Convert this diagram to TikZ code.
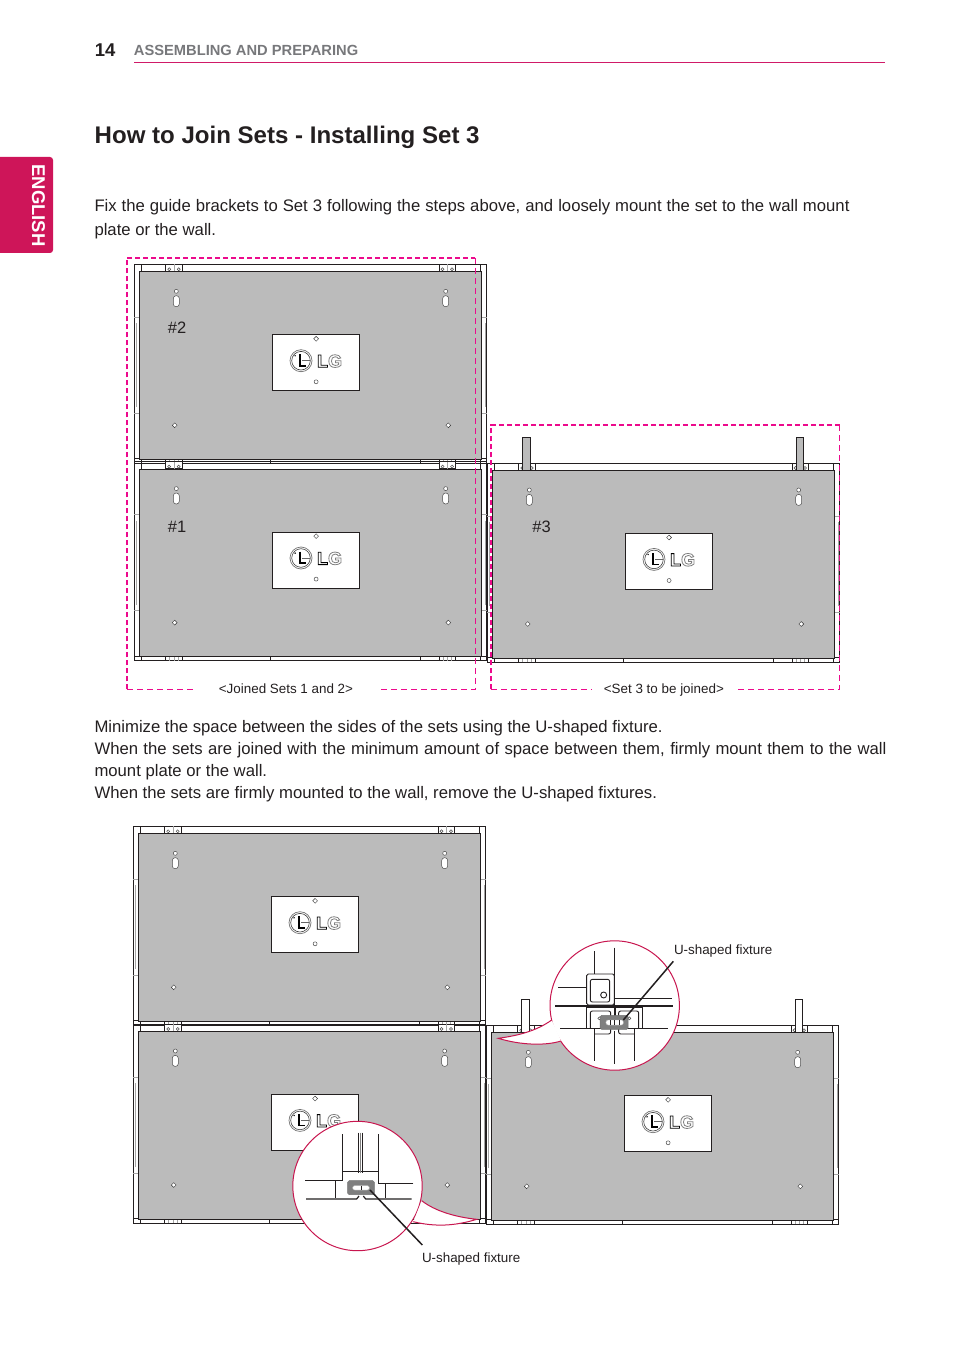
\documentclass[tikz,border=0pt]{standalone}
\usepackage{xcolor}
\usepackage{fontspec}
\setmainfont{Liberation Sans}
\usetikzlibrary{shapes.geometric}
\definecolor{TabRed}    {HTML}{CE1559}
\definecolor{LensRed}   {HTML}{C8164F}
\definecolor{DashPink}  {HTML}{EC0A8C}
\definecolor{RuleRed}   {HTML}{D01A68}
\definecolor{PanelGrey} {HTML}{BBBBBB}
\definecolor{FixGrey}   {HTML}{7F7F7F}
\definecolor{InkDark}   {HTML}{231F20}
\definecolor{HeadGrey}  {HTML}{77787B}
\tikzset{
  bodytext/.style={inner sep=0pt,anchor=base west,align=left,text=InkDark,font=\fontsize{16.7}{22}\selectfont},
  smalltext/.style={inner sep=0pt,anchor=base west,text=InkDark,font=\fontsize{13.4}{16}\selectfont},
  setlabel/.style={inner sep=0pt,text=InkDark,font=\fontsize{16.5}{18}\selectfont},
  frameline/.style={draw=InkDark,line width=.8pt},
  palebracket/.style={draw=black!35,line width=.6pt},
  panelbody/.style={draw=InkDark,line width=.9pt,fill=PanelGrey,anchor=north west,inner sep=0pt,minimum width=342pt,minimum height=187.5pt},
  logoplate/.style={draw=InkDark,line width=.8pt,fill=white,anchor=north west,inner sep=0pt,minimum width=87pt,minimum height=56pt},
  holedot/.style={circle,draw=black!70,line width=.5pt,fill=white,inner sep=0pt,minimum size=4pt},
  smalldiamond/.style={diamond,draw=black!80,line width=.4pt,fill=white,inner sep=0pt,minimum size=5pt},
  thickdash/.style={draw=DashPink,line width=1.7pt,dash pattern=on 5pt off 3pt},
  thindash/.style={draw=DashPink,line width=1pt,dash pattern=on 6pt off 4pt},
  lens/.style={circle,draw=LensRed,line width=1pt,fill=white,inner sep=0pt,minimum size=129.4pt},
  detail/.style={draw=InkDark,line width=.9pt},
  fixture/.style={draw=black!55,fill=FixGrey,rounded corners=1.5pt,inner sep=0pt,line width=.5pt},
  leader/.style={draw=InkDark,line width=1.5pt},
}
% outline text for the two logo letters
\newcommand{\logotext}[2]{\special{pdf:code 1 Tr 0.8 w #1 #1 #1 RG}#2\special{pdf:code 0 Tr}}
% one display: name, left and top of the grey panel
\newcommand{\drawset}[3]{%
  \begin{scope}[shift={(#2,#3)}]
    \draw[frameline] (-5,-7) rectangle (347.5,192);
    \draw[frameline] (2,-7) -- (2,0) (341,-7) -- (341,0);
    \draw[frameline] (2,187.5) -- (2,192) (341,187.5) -- (341,192);
    \draw[frameline] (-5,187.5) -- (0,187.5) (342.5,187.5) -- (347.5,187.5);
    \draw[palebracket] (-5,46) -- (0,46) (-5,142) -- (0,142) (342.5,46) -- (347.5,46) (342.5,142) -- (347.5,142);
    \draw[palebracket] (-3.5,52) -- (-3.5,136) (346,52) -- (346,136);
    \foreach \xpos in {26.4,299.7} {
      \draw[frameline,fill=white] (\xpos,-7) rectangle ({\xpos+16.6},0);
      \draw[palebracket] ({\xpos+8.3},-7) -- ({\xpos+8.3},0);
      \node[holedot,minimum size=3pt] at ({\xpos+3.5},-2) {};
      \node[holedot,minimum size=3pt] at ({\xpos+13},-2) {};
      \draw[frameline,fill=white] (\xpos,187.5) rectangle ({\xpos+16.6},192);
      \draw[palebracket] ({\xpos+4},187.5) -- ({\xpos+4},192) ({\xpos+8.3},187.5) -- ({\xpos+8.3},192) ({\xpos+12.6},187.5) -- ({\xpos+12.6},192);
    }
    \draw[frameline] (131.4,187.5) -- (131.4,192) (280.7,187.5) -- (280.7,192);
    \node[panelbody] (#1) at (0,0) {};
    \node[logoplate] (#1plate) at (133,63) {};
    \foreach \xpos in {37,306.4} {
      \node[holedot] at (\xpos,20) {};
      \draw[draw=black!70,line width=.5pt,fill=white,rounded corners=2.8pt] ({\xpos-3},24.4) rectangle ({\xpos+3},35.4);
    }
    \node[smalldiamond] at (35.4,154) {};
    \node[smalldiamond] at (309,154) {};
    \node[smalldiamond] at (176.8,67.5) {};
    \node[holedot] at (176.8,110.5) {};
    % logo
    \draw[draw=black!55,line width=.7pt] (161.7,89.4) circle (11);
    \draw[draw=black!75,line width=.6pt] (161.7,89.4) circle (9.3);
    \draw[draw=black,line width=1.5pt] (160.5,83) -- (160.5,94.5) -- (166.5,94.5);
    \draw[draw=black!60,line width=.7pt] (163,89.5) -- (171,89.5);
    \fill[black] (155.8,84.5) circle (.8);
    \node[inner sep=0pt,font=\bfseries\fontsize{18}{18}\selectfont,text=white,anchor=base west] (#1logo) at (177.6,96) {\logotext{0}{L}\logotext{0.5}{G}};
  \end{scope}
}
\begin{document}
\begin{tikzpicture}[x=1pt,y=-1pt]
  \useasboundingbox (0,0) rectangle (954,1348);
  % page head
  \node[inner sep=0pt,anchor=base west,text=InkDark,font=\bfseries\fontsize{18.5}{20}\selectfont] (pagenum) at (94.7,56.7) {14};
  \node[inner sep=0pt,anchor=base west,text=HeadGrey,font=\bfseries\fontsize{14.7}{16}\selectfont] (chapter) at (133.7,56) {ASSEMBLING AND PREPARING};
  \draw[RuleRed,line width=.7pt] (134,62.6) -- (885,62.6);
  \fill[TabRed,rounded corners=3pt] (-6,157) rectangle (53,253);
  \node[rotate=-90,inner sep=0pt,text=white,font=\bfseries\fontsize{18.5}{20}\selectfont] (langtab) at (38.5,205.5) {ENGLISH};
  \node[inner sep=0pt,anchor=base west,text=InkDark,font=\bfseries\fontsize{24.05}{28}\selectfont] (title) at (94.5,144) {How to Join Sets - Installing Set 3};
  \node[bodytext,font=\fontsize{16.7}{24}\selectfont] (introtext) at (94.3,236) {\makebox[755pt][s]{Fix the guide brackets to Set 3 following the steps above, and loosely mount the set to the wall mount}\\plate or the wall.};

  % upper drawing
  \drawset{settwo}{139.3}{271.3}
  \drawset{setone}{139.3}{468.6}
  \drawset{setthree}{492.3}{470}
  \fill[PanelGrey] (522.3,437.3) rectangle (530.7,470);
  \draw[frameline] (522.3,470) -- (522.3,437.3) -- (530.7,437.3) -- (530.7,470);
  \fill[PanelGrey] (796.3,437.3) rectangle (803.7,470);
  \draw[frameline] (796.3,470) -- (796.3,437.3) -- (803.7,437.3) -- (803.7,470);
  \node[setlabel] (labeltwo) at (177,327.5) {\#2};
  \node[setlabel] (labelone) at (177,526.5) {\#1};
  \node[setlabel] (labelthree) at (541.5,526.5) {\#3};
  \draw[thickdash] (127,689.3) -- (127,257.7) -- (475.3,257.7);
  \draw[thindash] (475.3,257.7) -- (475.3,689.3) -- (381,689.3);
  \draw[thindash] (127,689.3) -- (193,689.3);
  \draw[thickdash] (491,689.3) -- (491,425.2) -- (839.5,425.2);
  \draw[thindash] (839.5,425.2) -- (839.5,689.3) -- (736,689.3);
  \draw[thindash] (491,689.3) -- (592,689.3);
  \node[smalltext] (joinedcap) at (218.7,693.2) {<Joined Sets 1 and 2>};
  \node[smalltext] (set3cap) at (603.7,693.2) {<Set 3 to be joined>};

  \node[bodytext] (jointext) at (94.3,798) {Minimize the space between the sides of the sets using the U-shaped fixture.\\\makebox[792pt][s]{When the sets are joined with the minimum amount of space between them, firmly mount them to the wall}\\mount plate or the wall.\\When the sets are firmly mounted to the wall, remove the U-shaped fixtures.};

  % lower drawing
  \drawset{settwob}{138.3}{833.3}
  \drawset{setoneb}{138.3}{1031}
  \drawset{setthreeb}{491.3}{1032.3}
  \draw[frameline,fill=white] (521.3,1032) -- (521.3,999.3) -- (529.7,999.3) -- (529.7,1032);
  \draw[frameline,fill=white] (795.3,1032) -- (795.3,999.3) -- (802.7,999.3) -- (802.7,1032);

  % lens on the top joint
  \node[lens] (lensa) at (614.7,1005.5) {};
  \fill[white] (551.7,1020) .. controls (535,1032) and (515,1036) .. (498.3,1038.3) .. controls (520,1045) and (545,1046) .. (561,1041) -- cycle;
  \draw[LensRed,line width=1pt] (551.7,1020) .. controls (535,1032) and (515,1036) .. (498.3,1038.3) .. controls (520,1045) and (545,1046) .. (561,1041);
  \begin{scope}[shift={(480,920)},x=.3333pt,y=-.3333pt]
    \draw[detail] (343,93) -- (343,162) (404,83) -- (404,258);
    \draw[detail,fill=white,rounded corners=1.5pt] (320,162) rectangle (403,255);
    \draw[detail,rounded corners=2pt] (331,178) rectangle (389,246);
    \draw[detail] (371,225) circle (9);
    \draw[detail] (235,202) -- (320,202) (404,235) -- (576,235);
    \draw[detail,line width=1.2pt] (226,258) -- (578,258);
    \draw[detail] (320,262) rectangle (403,326) (405,262) rectangle (487,326);
    \draw[detail,rounded corners=2pt] (331,273) rectangle (392,342) (416,273) rectangle (476,342);
    \draw[detail,fill=white] (240,325) -- (343,325) -- (343,424) (564,325) -- (464,325) -- (464,424);
    \draw[detail] (404,332) -- (404,433);
    \node[holedot,minimum size=3pt] at (358,295) {};
    \node[holedot,minimum size=3pt] at (448,295) {};
    \node[fixture,anchor=center,minimum width=28pt,minimum height=14pt] (fixa) at (402.5,307) {};
    \draw[black!30,fill=white,line width=.4pt,rounded corners=2pt] (378,300) rectangle (430,315);
    \draw[InkDark,line width=.5pt] (391,300) -- (391,315) (404,300) -- (404,315) (417,300) -- (417,315);
    \coordinate (fixaend) at (430,300);
    \coordinate (labelaend) at (580,124);
    \draw[leader] (fixaend) -- (labelaend);
  \end{scope}
  \node[smalltext] (fixalabel) at (673.8,954) {U-shaped fixture};

  % lens on the bottom joint
  \node[lens] (lensb) at (357.5,1186) {};
  \fill[white] (421.7,1200.7) .. controls (435,1211) and (455,1217) .. (476.7,1219.3) .. controls (455,1226) and (435,1227) .. (413.3,1221.7) -- cycle;
  \draw[LensRed,line width=1pt] (421.7,1200.7) .. controls (435,1211) and (455,1217) .. (476.7,1219.3) .. controls (455,1226) and (435,1227) .. (413.3,1221.7);
  \begin{scope}[shift={(280,1110)},x=.3333pt,y=-.3333pt]
    \draw[detail] (75,212) -- (187,212) -- (187,72) (400,220) -- (295,220) -- (295,72);
    \draw[detail] (187,183) -- (295,183);
    \draw[black!50,line width=1.6pt] (242,68) -- (242,190);
    \draw[detail,line width=.6pt] (236,68) -- (236,190) (248,68) -- (248,190);
    \draw[detail] (165,212) -- (165,265) (317,220) -- (317,265);
    \draw[detail,line width=1.2pt] (78,267) -- (230,267) -- (237,258) (395,267) -- (257,267) -- (250,258);
    \node[fixture,anchor=center,minimum width=26.6pt,minimum height=14pt] (fixb) at (243,233) {};
    \draw[black!30,fill=white,line width=.4pt,rounded corners=2pt] (218,227) rectangle (268,240);
    \draw[InkDark,line width=.5pt] (243,227) -- (243,240);
    \coordinate (fixbend) at (270,240);
    \coordinate (labelbend) at (427,405);
    \draw[leader] (fixbend) -- (labelbend);
  \end{scope}
  \node[smalltext] (fixblabel) at (421.8,1262) {U-shaped fixture};
\end{tikzpicture}
\end{document}
